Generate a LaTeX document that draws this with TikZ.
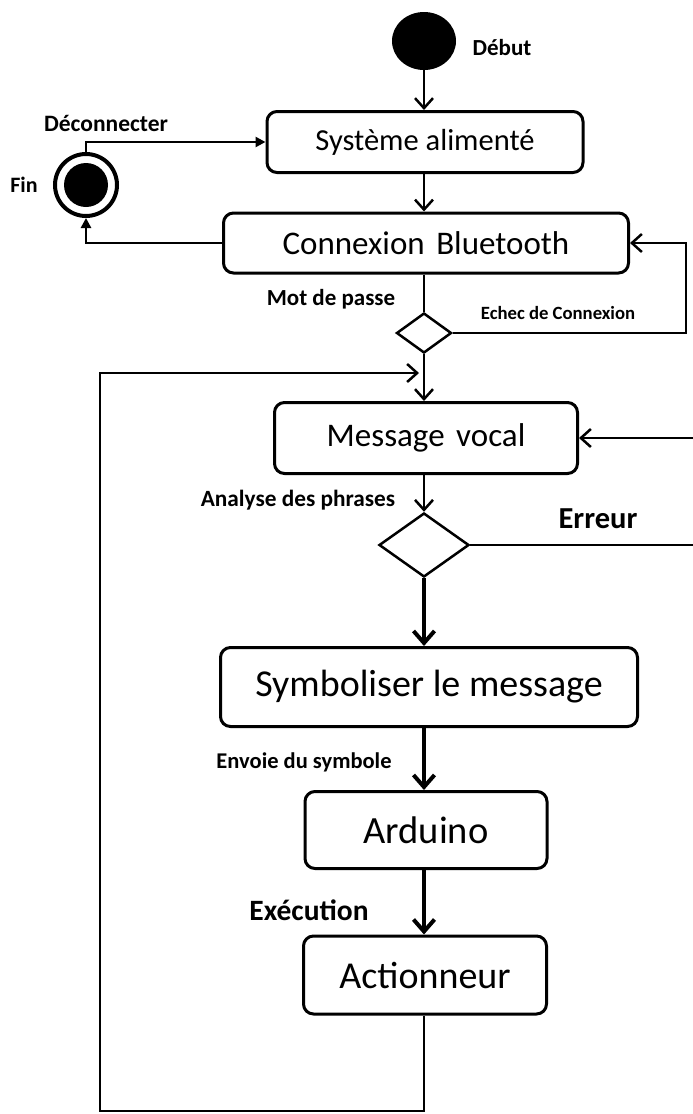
\documentclass[tikz,border=0pt]{standalone}
\usepackage{fontspec}
\setmainfont{Carlito}
\usetikzlibrary{arrows.meta,shapes.geometric}
\newcommand{\fs}[1]{\fontsize{#1}{#1}\selectfont}
\begin{document}
\begin{tikzpicture}[x=1pt,y=-1pt,
  box/.style={draw,line width=3pt,rounded corners=10pt,inner sep=0pt,align=center},
  link/.style={line width=2.5pt},
  arr/.style={link,-{Straight Barb[length=10pt,width=18pt]}},
  heavy/.style={line width=4pt,-{Straight Barb[length=12pt,width=21pt]}},
  farr/.style={link,-{Triangle[length=10pt,width=10pt]}},
  lbl/.style={font=\bfseries\fs{23},inner sep=0pt},
  decision/.style={diamond,draw,line width=2.5pt,inner sep=0pt}
]
\useasboundingbox (0,0) rectangle (693,1114);
\clip (0,0) rectangle (693,1114);

% states
\node[ellipse,fill=black,minimum width=64pt,minimum height=58pt,inner sep=0pt] (start) at (424,41) {};
\node[box,minimum width=316pt,minimum height=61pt,font=\fs{30.5}] (sys) at (425,142) {Système alimenté};
\node[box,minimum width=405pt,minimum height=60pt,font=\fs{33}] (bt) at (426,243) {Connexion\hspace{0.35em}Bluetooth};
\node[decision,minimum width=55pt,minimum height=40pt] (d1) at (424,333) {};
\node[box,minimum width=303pt,minimum height=71pt,font=\fs{33}] (msg) at (426,438) {Message\hspace{0.35em}vocal};
\node[decision,minimum width=90pt,minimum height=64pt] (d2) at (424,545) {};
\node[box,minimum width=417pt,minimum height=79pt,font=\fs{38}] (sym) at (429,687) {Symboliser le message};
\node[box,minimum width=242pt,minimum height=77pt,font=\fs{38.5}] (ard) at (426,830) {Arduino};
\node[box,minimum width=243pt,minimum height=78pt,font=\fs{38}] (act) at (425,975) {Actionneur};

% final state
\node[circle,draw,line width=4pt,minimum size=62pt,inner sep=0pt] (fin) at (86,185) {};
\fill (fin.center) circle (22pt);

% labels
\node[lbl] (lDebut) at (502,48) {Début};
\node[lbl,font=\bfseries\fs{23.5}] (lDeco) at (106,123) {Déconnecter};
\node[lbl,font=\bfseries\fs{22}] (lFin) at (24,185) {Fin};
\node[lbl] (lMdp) at (331,299) {Mot de passe};
\node[lbl,font=\bfseries\fs{18.7}] (lEchec) at (558,313) {Echec de Connexion};
\node[lbl,font=\bfseries\fs{23.3}] (lAna) at (298,500) {Analyse des phrases};
\node[lbl,font=\bfseries\fs{30.5}] (lErr) at (598,519) {Erreur};
\node[lbl,font=\bfseries\fs{22.5}] (lEnv) at (304,762) {Envoie du symbole};
\node[lbl,font=\bfseries\fs{29.5}] (lExe) at (309,910) {Exécution};

% transitions (all vertical flow runs along x = 424)
\draw[arr] (start.south) -- (start.south |- sys.north);
\draw[arr] (start.south |- sys.south) -- (start.south |- bt.north);
\draw[farr] (fin.north) |- (sys.west);
\draw[farr] (bt.west) -| (fin.south);
\draw[link] (d1.north |- bt.south) -- (d1.north);
\draw[arr] (d1.east) -- ++(233,0) |- (bt.east);
\draw[arr] (d1.south) -- (d1.south |- msg.north);
\coordinate (loopin) at (419,373);
\draw[arr] (d1.south |- act.south) -- (424,1111) -| (100,373) -- (loopin);
\draw[arr] (d2.north |- msg.south) -- (d2.north);
\draw[arr] (d2.east) -- ++(240,0) |- (msg.east);
\draw[heavy] (d2.south) -- (d2.south |- sym.north);
\draw[heavy] (d2.south |- sym.south) -- (d2.south |- ard.north);
\draw[heavy] (d2.south |- ard.south) -- (d2.south |- act.north);
\end{tikzpicture}
\end{document}
